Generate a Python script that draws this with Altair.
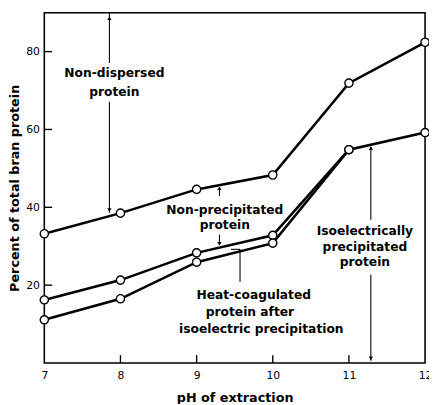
import altair as alt
import pandas as pd

# ---- data ----
ph = [7, 8, 9, 10, 11, 12]
total_dispersed = [33.2, 38.5, 44.6, 48.3, 71.9, 82.4]      # upper curve
non_precipitated = [16.2, 21.3, 28.3, 32.8, 54.8, 59.2]    # middle curve
heat_ph = [7, 8, 9, 10, 11]
heat_coagulated = [11.1, 16.5, 25.9, 30.8, 54.8]           # lower curve

x_ticks = [7, 8, 9, 10, 11, 12]
y_ticks = [20, 40, 60, 80]

# annotation text (line by line) with their anchor positions in data units
label_text = ["Non-dispersed", "protein",
              "Non-precipitated", "protein",
              "Heat-coagulated", "protein after", "isoelectric precipitation",
              "Isoelectrically", "precipitated", "protein"]
label_x = [7.92, 7.92, 9.37, 9.37, 9.75, 9.70, 9.85, 11.21, 11.21, 11.21]
label_y = [74.6, 69.6, 39.3, 35.5, 17.4, 13.1, 8.8, 33.8, 29.7, 26.0]

# leader segments (x, y) -> (x2, y2) in data units
seg_x = [7.855, 7.855, 9.30, 9.30, 9.57, 9.45, 11.288, 11.288]
seg_y = [90.0, 67.1, 42.9, 33.0, 20.9, 29.2, 55.5, 22.7]
seg_x2 = [7.855, 7.855, 9.30, 9.30, 9.57, 9.57, 11.288, 11.288]
seg_y2 = [77.1, 38.6, 45.0, 30.4, 29.2, 29.2, 36.8, 0.6]

# arrow heads
head_x = [7.855, 7.855, 9.30, 9.30, 11.288, 11.288]
head_y = [88.6, 39.3, 44.9, 30.6, 55.2, 1.2]
head_shape = ["triangle-up", "triangle-down", "triangle-up", "triangle-down",
              "triangle-up", "triangle-down"]

# ---- tables ----
curves = pd.DataFrame(
    {"ph": ph + ph + heat_ph,
     "value": total_dispersed + non_precipitated + heat_coagulated,
     "series": ["total"] * len(ph) + ["nonprecip"] * len(ph) + ["heat"] * len(heat_ph)}
)
labels = pd.DataFrame({"x": label_x, "y": label_y, "text": label_text})
segs = pd.DataFrame({"x": seg_x, "y": seg_y, "x2": seg_x2, "y2": seg_y2})
heads = pd.DataFrame({"x": head_x, "y": head_y, "shape": head_shape})
xt = pd.DataFrame({"v": [t for t in x_ticks if t not in (7, 12)]})
yt = pd.DataFrame({"v": y_ticks})

W, H = 388, 357
FONT = "DejaVu Sans"

xscale = alt.Scale(domain=[7, 12], nice=False, zero=False)
yscale = alt.Scale(domain=[0, 90], nice=False)

x_axis = alt.Axis(values=x_ticks, format="d", ticks=False, domain=False, grid=False,
                  labelFlush=False,
                  labelFont=FONT, labelFontSize=11, labelPadding=7,
                  labelColor="black", title="pH of extraction",
                  titleFont=FONT, titleFontSize=13, titleFontWeight="bold",
                  titleColor="black", titlePadding=11)
y_axis = alt.Axis(values=y_ticks, format="d", ticks=False, domain=False, grid=False,
                  labelFont=FONT, labelFontSize=11, labelPadding=5,
                  labelColor="black", title="Percent of total bran protein",
                  titleFont=FONT, titleFontSize=13, titleFontWeight="bold",
                  titleColor="black", titleX=-23, titleY=H / 2,
                  titleBaseline="bottom", titleAngle=270)

lines = alt.Chart(curves).mark_line(color="black", strokeWidth=2.6).encode(
    x=alt.X("ph:Q", scale=xscale, axis=x_axis),
    y=alt.Y("value:Q", scale=yscale, axis=y_axis),
    detail="series:N",
)
points = alt.Chart(curves).mark_point(
    shape="circle", filled=False, fill="white", fillOpacity=1,
    stroke="black", strokeWidth=1.4, size=70, opacity=1
).encode(x=alt.X("ph:Q", scale=xscale), y=alt.Y("value:Q", scale=yscale))

rules = alt.Chart(segs).mark_rule(color="black", strokeWidth=1.1).encode(
    x=alt.X("x:Q", scale=xscale), y=alt.Y("y:Q", scale=yscale), x2="x2:Q", y2="y2:Q"
)
arrowheads = alt.Chart(heads).mark_point(filled=True, color="black", size=18, opacity=1).encode(
    x=alt.X("x:Q", scale=xscale), y=alt.Y("y:Q", scale=yscale),
    shape=alt.Shape("shape:N", scale=None),
)
texts = alt.Chart(labels).mark_text(
    font=FONT, fontSize=12.5, fontWeight="bold", color="black", align="center", baseline="middle"
).encode(x=alt.X("x:Q", scale=xscale), y=alt.Y("y:Q", scale=yscale), text="text:N")

xticks = alt.Chart(xt).mark_tick(color="black", orient="vertical", size=8, thickness=1.4, opacity=1).encode(
    x=alt.X("v:Q", scale=xscale), y=alt.value(H - 4)
)
yticks = alt.Chart(yt).mark_tick(color="black", orient="horizontal", size=8, thickness=1.4, opacity=1).encode(
    y=alt.Y("v:Q", scale=yscale), x=alt.value(4)
)

chart = alt.layer(lines, rules, arrowheads, points, texts, xticks, yticks).properties(
    width=W, height=H,
    autosize=alt.AutoSizeParams(type="none"),
    padding={"left": 37, "top": 1, "right": 4, "bottom": 38},
    background="white",
).configure_view(stroke="black", strokeWidth=1.6)

chart.save("out.html", embed_options={"renderer": "svg", "actions": False})
